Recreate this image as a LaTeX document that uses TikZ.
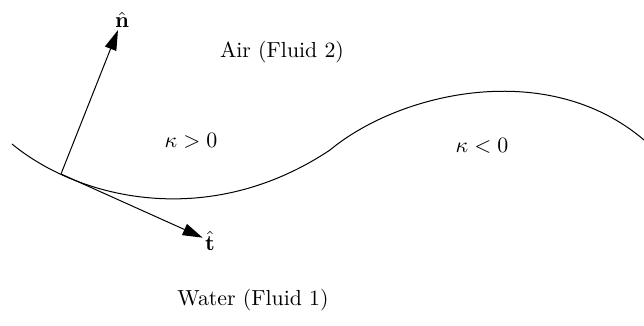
\documentclass[tikz,border=0pt]{standalone}
\usepackage{tikz}
\usepackage{xcolor}
\usetikzlibrary{calc,arrows.meta,positioning}
\definecolor{inkline}{HTML}{000000}
\tikzset{
  vec/.style={draw=inkline, line width=0.5pt, -{Triangle[length=10pt,width=6pt]}},
  fluidlabel/.style={font=\fontsize{10.9pt}{13pt}\selectfont, inner sep=1pt}
}

\begin{document}
\begin{tikzpicture}[x=0.5pt, y=-0.5pt]
  \useasboundingbox (0,0) rectangle (644,326);

  % interface between the two fluids
  \draw[inkline, line width=0.5pt]
    (12,144) .. controls (80,200) and (210,230) .. (330,150)
             .. controls (400,92) and (548,58) .. (644,140);

  \coordinate (base) at (61,174);

  \node[fluidlabel] (air) at (282,52) {Air (Fluid 2)};
  \node[fluidlabel] (water) at (253,300) {Water (Fluid 1)};
  \node[fluidlabel] (kpos) at (191,141) {$\kappa > 0$};
  \node[fluidlabel] (kneg) at (482,146) {$\kappa < 0$};
  \node[fluidlabel] (nhat) at (122,20) {$\hat{\mathbf{n}}$};
  \node[fluidlabel] (that) at (210,241) {$\hat{\mathbf{t}}$};

  \draw[vec] (base) -- (nhat);
  \draw[vec] (base) -- (that);
\end{tikzpicture}
\end{document}
